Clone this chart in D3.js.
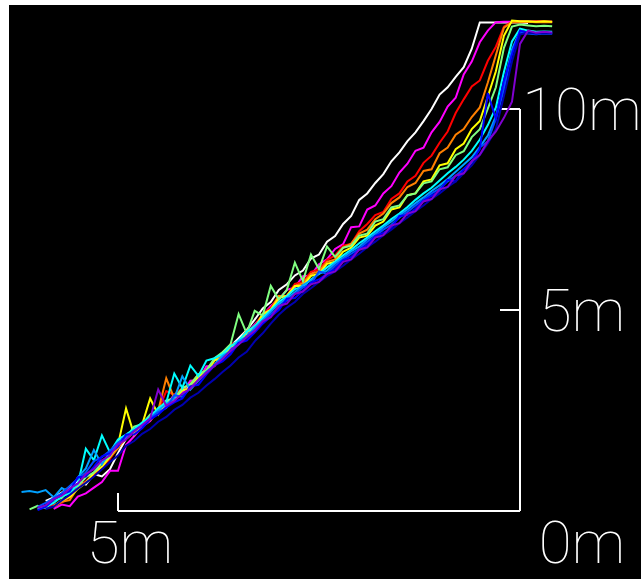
<!DOCTYPE html>
<html>
<head>
<meta charset="utf-8">
<script src="https://cdn.jsdelivr.net/npm/d3@7"></script>
<style>
  html, body { margin: 0; padding: 0; background: #fff; }
  svg { display: block; }
  .lbl { font-family: Roboto, "Open Sans", sans-serif; font-weight: 100; font-size: 60px; fill: #fff; }
</style>
</head>
<body>
<svg id="chart" width="641" height="579"></svg>
<script>
// horizontal distance (m) of every sample
const distances = [
  6.2, 6.1, 6.0, 5.9, 5.8, 5.7, 5.6, 5.5, 5.4, 5.3,
  5.2, 5.1, 5.0, 4.9, 4.8, 4.7, 4.6, 4.5, 4.4, 4.3,
  4.2, 4.1, 4.0, 3.9, 3.8, 3.7, 3.6, 3.5, 3.4, 3.3,
  3.2, 3.1, 3.0, 2.9, 2.8, 2.7, 2.6, 2.5, 2.4, 2.3,
  2.2, 2.1, 2.0, 1.9, 1.8, 1.7, 1.6, 1.5, 1.4, 1.3,
  1.2, 1.1, 1.0, 0.9, 0.8, 0.7, 0.6, 0.5, 0.4, 0.3,
  0.2, 0.1, 0.0, -0.1, -0.2, -0.3, -0.4
];

// height (m) of each run at those distances
const white = [
  null, null, null, 0.25, 0.34, 0.46, 0.60, 0.74, 0.66, 0.92,
  0.86, 1.04, 1.44, 1.80, 1.96, 2.10, 2.34, 2.50, 2.70, 2.80,
  3.00, 3.14, 3.36, 3.50, 3.74, 3.94, 4.10, 4.30, 4.50, 4.76,
  5.04, 5.20, 5.50, 5.64, 5.86, 5.98, 6.28, 6.38, 6.70, 6.84,
  7.14, 7.34, 7.74, 7.90, 8.16, 8.38, 8.70, 8.92, 9.20, 9.42,
  9.70, 10.00, 10.36, 10.54, 10.80, 11.04, 11.50, 12.15, 12.15, 12.15,
  12.15, 12.15, 12.15, 12.14, null, null, null
];
const magenta = [
  null, null, null, null, 0.05, 0.16, 0.12, 0.36, 0.44, 0.58,
  0.72, 1.00, 1.00, 1.64, 1.86, 2.10, 2.24, 2.50, 2.62, 2.90,
  2.92, 3.24, 3.26, 3.60, 3.60, 3.94, 4.06, 4.24, 4.42, 4.64,
  4.86, 5.10, 5.26, 5.50, 5.56, 5.84, 5.86, 6.14, 6.26, 6.52,
  6.64, 7.06, 7.08, 7.50, 7.60, 7.90, 8.08, 8.42, 8.64, 8.96,
  9.04, 9.42, 9.68, 10.06, 10.28, 10.86, 11.18, 11.66, 11.95, 12.16,
  12.17, 12.17, 12.18, 12.17, 12.18, 12.17, 12.17
];
const red = [
  null, null, null, 0.08, 0.15, 0.21, 0.35, 0.60, 0.74, 0.90,
  1.10, 1.30, 1.60, 1.80, 1.95, 2.19, 2.31, 2.49, 2.98, 2.89,
  3.05, 3.15, 3.40, 3.45, 3.75, 3.81, 4.15, 4.19, 4.45, 4.60,
  4.90, 5.05, 5.35, 5.35, 5.65, 5.70, 5.95, 6.01, 6.25, 6.35,
  6.60, 6.64, 6.96, 7.14, 7.36, 7.44, 7.76, 7.90, 8.20, 8.34,
  8.66, 8.84, 9.16, 9.44, 9.90, 10.24, 10.56, 10.71, 11.20, 11.55,
  12.05, 12.17, 12.18, 12.17, 12.18, 12.18, 12.17
];
const orange = [
  null, null, null, null, 0.10, 0.23, 0.27, 0.58, 0.72, 0.94,
  1.10, 1.34, 1.56, 1.84, 1.96, 2.20, 2.26, 2.50, 3.30, 2.80,
  3.05, 3.15, 3.39, 3.51, 3.75, 3.85, 4.10, 4.20, 4.49, 4.55,
  4.89, 5.01, 5.35, 5.35, 5.60, 5.66, 5.90, 5.96, 6.20, 6.26,
  6.55, 6.65, 6.90, 7.00, 7.26, 7.40, 7.66, 7.80, 8.06, 8.16,
  8.46, 8.50, 8.90, 9.04, 9.36, 9.50, 9.80, 10.04, 10.66, 11.34,
  12.02, 12.16, 12.16, 12.17, 12.16, 12.16, 12.16
];
const yellow = [
  null, null, null, null, 0.12, 0.26, 0.35, 0.55, 0.70, 0.95,
  1.10, 1.35, 1.65, 2.55, 1.90, 2.15, 2.80, 2.40, 2.70, 2.76,
  3.00, 3.05, 3.35, 3.45, 3.75, 3.80, 4.10, 4.15, 4.45, 4.55,
  4.90, 5.00, 5.30, 5.35, 5.60, 5.60, 5.85, 5.90, 6.15, 6.20,
  6.45, 6.55, 6.80, 6.85, 7.10, 7.20, 7.50, 7.55, 7.86, 7.90,
  8.20, 8.25, 8.60, 8.65, 9.00, 9.14, 9.50, 9.70, 10.31, 10.94,
  11.82, 12.20, 12.18, 12.18, 12.17, 12.18, 12.17
];
const lightGreen = [
  null, 0.04, 0.13, 0.07, 0.27, 0.32, 0.54, 0.62, 0.84, 0.96,
  1.20, 1.36, 1.74, 1.82, 2.10, 2.16, 2.40, 2.50, 2.75, 2.80,
  3.05, 3.15, 3.40, 3.50, 3.80, 3.95, 4.15, 4.90, 4.42, 4.98,
  4.86, 5.60, 5.26, 5.50, 6.18, 5.72, 6.38, 6.02, 6.58, 6.32,
  6.55, 6.60, 6.85, 6.90, 7.20, 7.26, 7.55, 7.60, 7.85, 7.90,
  8.15, 8.20, 8.50, 8.55, 8.85, 8.95, 9.30, 9.50, 10.01, 10.54,
  11.52, 12.05, 12.10, 12.08, 12.06, 12.07, 12.06
];
const cyan = [
  null, null, 0.05, 0.10, 0.20, 0.36, 0.44, 0.66, 1.55, 1.26,
  1.88, 1.46, 1.78, 1.90, 2.04, 2.20, 2.34, 2.56, 2.70, 3.42,
  3.06, 3.62, 3.36, 3.74, 3.80, 3.90, 4.10, 4.24, 4.46, 4.60,
  4.80, 5.00, 5.20, 5.34, 5.52, 5.58, 5.76, 5.90, 6.06, 6.20,
  6.36, 6.50, 6.66, 6.80, 6.96, 7.10, 7.26, 7.40, 7.56, 7.74,
  7.90, 8.04, 8.22, 8.40, 8.56, 8.74, 8.96, 9.24, 9.60, 10.04,
  10.92, 11.68, 12.00, 11.95, 11.92, 11.93, 11.92
];
const skyBlue = [
  0.47, 0.50, 0.46, 0.52, 0.34, 0.57, 0.47, 0.84, 1.06, 1.52,
  1.16, 1.48, 1.70, 1.84, 2.00, 2.14, 2.30, 2.50, 2.66, 2.80,
  3.35, 3.02, 3.24, 3.46, 3.64, 3.86, 3.98, 4.22, 4.34, 4.56,
  4.74, 4.96, 5.14, 5.30, 5.44, 5.62, 5.74, 5.90, 5.98, 6.16,
  6.30, 6.46, 6.58, 6.76, 6.90, 7.06, 7.20, 7.36, 7.50, 7.66,
  7.80, 7.96, 8.10, 8.26, 8.44, 8.62, 8.80, 9.06, 9.34, 9.82,
  10.62, 11.48, 11.95, 11.90, 11.88, 11.90, 11.88
];
const azure = [
  null, null, 0.10, 0.20, 0.32, 0.44, 0.62, 0.80, 0.96, 1.24,
  1.34, 1.50, 1.70, 1.86, 2.00, 2.12, 2.30, 2.46, 2.56, 2.88,
  2.84, 3.06, 3.26, 3.46, 3.62, 3.80, 4.00, 4.16, 4.34, 4.50,
  4.70, 4.90, 5.06, 5.24, 5.40, 5.56, 5.64, 5.96, 5.90, 6.10,
  6.26, 6.40, 6.52, 6.70, 6.84, 7.00, 7.12, 7.30, 7.44, 7.60,
  7.74, 7.90, 8.02, 8.20, 8.34, 8.50, 8.66, 9.04, 9.20, 9.76,
  10.48, 11.42, 11.90, 11.88, 11.86, 11.88, 11.87
];
const blue = [
  null, null, 0.02, 0.10, 0.28, 0.40, 0.50, 0.84, 0.86, 1.10,
  1.36, 1.44, 1.60, 1.90, 1.90, 2.06, 2.28, 2.40, 2.58, 2.70,
  2.80, 3.10, 3.14, 3.40, 3.62, 3.72, 3.90, 4.18, 4.24, 4.44,
  4.66, 4.84, 5.00, 5.28, 5.30, 5.48, 5.68, 5.76, 5.90, 6.02,
  6.24, 6.32, 6.50, 6.62, 6.84, 6.92, 7.04, 7.34, 7.36, 7.52,
  7.72, 7.84, 7.96, 8.24, 8.20, 8.50, 8.70, 9.00, 10.40, 9.75,
  10.70, 11.35, 11.95, 11.90, 11.88, 11.90, 11.89
];
const navy = [
  null, null, null, 0.05, 0.11, 0.26, 0.40, 0.56, 0.70, 0.86,
  1.04, 1.22, 1.38, 1.62, 1.74, 1.92, 2.04, 2.22, 2.34, 2.52,
  2.64, 2.82, 2.94, 3.12, 3.28, 3.46, 3.62, 3.82, 3.96, 4.22,
  4.42, 4.66, 4.88, 5.06, 5.20, 5.40, 5.54, 5.70, 5.84, 5.96,
  6.10, 6.26, 6.40, 6.56, 6.70, 6.86, 7.00, 7.16, 7.30, 7.46,
  7.60, 7.76, 7.90, 8.06, 8.20, 8.40, 8.60, 8.86, 9.14, 9.50,
  10.32, 11.18, 11.85, 11.90, 11.88, 11.89, 11.88
];
const purple = [
  null, null, 0.08, 0.14, 0.30, 0.38, 0.56, 0.68, 0.92, 1.04,
  1.26, 1.38, 1.66, 1.78, 1.98, 2.14, 2.30, 3.02, 2.62, 2.74,
  2.92, 3.04, 3.26, 3.44, 3.62, 3.78, 3.98, 4.14, 4.32, 4.48,
  4.72, 4.82, 5.10, 5.16, 5.40, 5.46, 5.64, 5.70, 5.90, 5.96,
  6.20, 6.26, 6.50, 6.56, 6.80, 6.86, 7.10, 7.16, 7.40, 7.46,
  7.70, 7.76, 8.00, 8.06, 8.34, 8.40, 8.70, 8.86, 9.20, 9.44,
  9.78, 10.18, 11.62, 11.95, 11.90, 11.92, 11.90
];

const runs = [white, magenta, red, orange, yellow, lightGreen, cyan, skyBlue, azure, blue, navy, purple];
const runColors = ['#ffffff', '#ff00ff', '#ff0000', '#ff8000', '#ffff00', '#80ff80',
  '#00ffff', '#00a0ff', '#0050ff', '#0000ff', '#0000b0', '#8000d0'];

const xTicks = [5];
const yTicks = [0, 5, 10];

const svg = d3.select('#chart');

// black plotting area
svg.append('rect')
  .attr('x', 9).attr('y', 5)
  .attr('width', 632).attr('height', 574)
  .attr('fill', '#000');

const x = d3.scaleLinear().domain([5, 0]).range([118, 520]);
const y = d3.scaleLinear().domain([0, 10]).range([511, 109]);

// axes
const xAxis = svg.append('g')
  .attr('transform', 'translate(0,511)')
  .style('color', '#fff')
  .call(d3.axisBottom(x).tickValues(xTicks).tickSizeInner(-18).tickSizeOuter(0).offset(0)
    .tickFormat(d => d + 'm'));

const yAxis = svg.append('g')
  .attr('transform', 'translate(520,0)')
  .style('color', '#fff')
  .call(d3.axisRight(y).tickValues(yTicks).tickSizeInner(-20).tickSizeOuter(0).offset(0)
    .tickFormat(d => d + 'm'));

svg.selectAll('.domain, .tick line')
  .attr('stroke-width', 2)
  .attr('shape-rendering', 'crispEdges');

xAxis.selectAll('text')
  .attr('class', 'lbl')
  .attr('text-anchor', 'middle')
  .attr('x', 12).attr('y', 52).attr('dy', 0);

yAxis.selectAll('text')
  .attr('class', 'lbl')
  .attr('text-anchor', 'middle')
  .attr('x', 62)
  .attr('y', d => d === 0 ? 52 : 21)
  .attr('dy', 0);

// runs
const line = d3.line()
  .defined(d => d[1] != null)
  .x(d => x(d[0]))
  .y(d => y(d[1]));

svg.append('g')
  .selectAll('path')
  .data(runs)
  .join('path')
  .attr('d', d => line(d3.zip(distances, d)))
  .attr('fill', 'none')
  .attr('stroke', (d, i) => runColors[i])
  .attr('stroke-width', 2)
  .attr('stroke-linejoin', 'miter');
</script>
</body>
</html>
